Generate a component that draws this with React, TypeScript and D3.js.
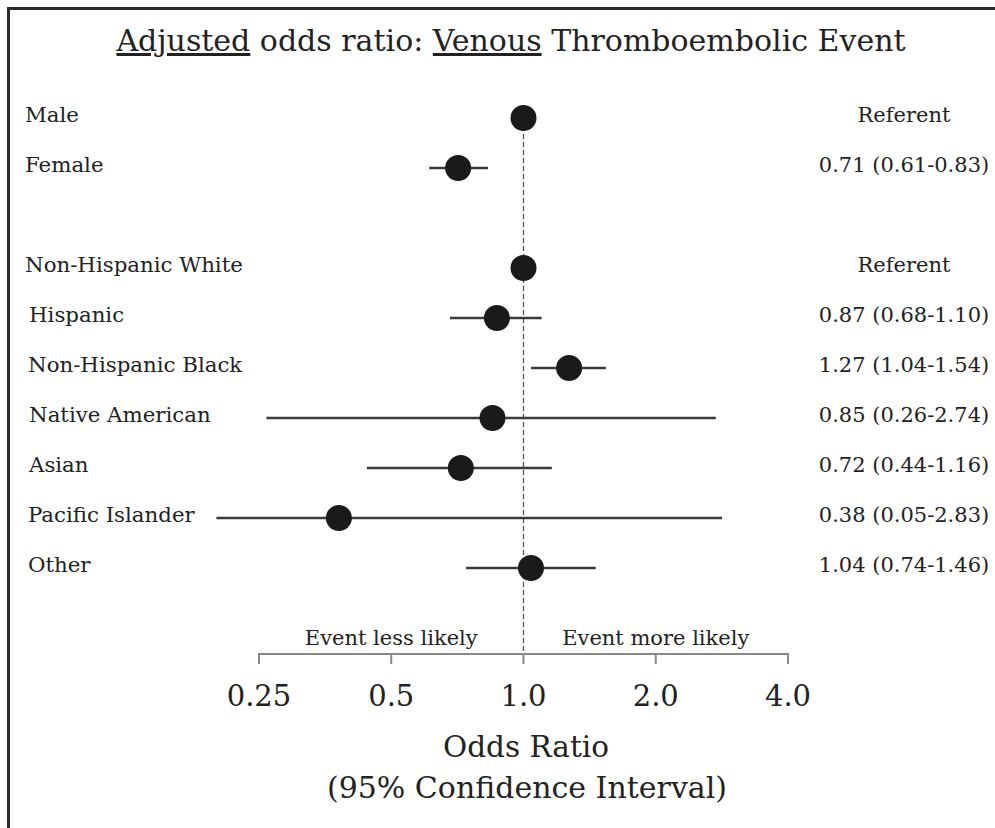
import React from "react";
import * as d3 from "d3";

const rowKeys = ["Male", "Female", "gap", "Non-Hispanic White", "Hispanic", "Non-Hispanic Black", "Native American", "Asian", "Pacific Islander", "Other"];
const labels = ["Male", "Female", "Non-Hispanic White", "Hispanic", "Non-Hispanic Black", "Native American", "Asian", "Pacific Islander", "Other"];
const estimates = [1.0, 0.71, 1.0, 0.87, 1.27, 0.85, 0.72, 0.38, 1.04];
const lowers: (number | null)[] = [null, 0.61, null, 0.68, 1.04, 0.26, 0.44, 0.05, 0.74];
const uppers: (number | null)[] = [null, 0.83, null, 1.10, 1.54, 2.74, 1.16, 2.83, 1.46];
const rightTexts = ["Referent", "0.71 (0.61-0.83)", "Referent", "0.87 (0.68-1.10)", "1.27 (1.04-1.54)", "0.85 (0.26-2.74)", "0.72 (0.44-1.16)", "0.38 (0.05-2.83)", "1.04 (0.74-1.46)"];
const labelIndent = [0, 0, 0, 4, 3, 4, 4, 3, 3];
const tickValues = [0.25, 0.5, 1.0, 2.0, 4.0];
const tickLabels = ["0.25", "0.5", "1.0", "2.0", "4.0"];

const W = 995;
const H = 828;
const FONT = "'DejaVu Serif', serif";

export default function App() {
  const x = d3.scaleLog().base(2).domain([0.25, 4]).range([259, 788]);
  const y = d3.scalePoint<string>().domain(rowKeys).range([118, 568]);
  const clipMin = 0.2;
  const axisY = 654;
  const dotR = 13;

  return (
    <svg width={W} height={H} style={{ position: "absolute", left: 0, top: 0, background: "#fff" }} fontFamily={FONT}>
      <rect x={0} y={0} width={W} height={H} fill="#fff" />
      <path d={`M8.5,${H} L8.5,8.5 L${W},8.5`} fill="none" stroke="#2a2a2a" strokeWidth={3} />

      <text x={511} y={51} textAnchor="middle" fontSize={30} fill="#222">
        <tspan textDecoration="underline">Adjusted</tspan> odds ratio: <tspan textDecoration="underline">Venous</tspan> Thromboembolic Event
      </text>

      {/* reference line */}
      <line x1={x(1)} x2={x(1)} y1={y("Male")!} y2={axisY} stroke="#555" strokeWidth={1.3} strokeDasharray="5,3" />

      {labels.map((lab, i) => {
        const yy = y(lab)!;
        const lo = lowers[i];
        const hi = uppers[i];
        return (
          <g key={lab}>
            <text x={25 + labelIndent[i]} y={yy + 4} fontSize={21.3} fill="#222">{lab}</text>
            {lo !== null && hi !== null && (
              <line x1={x(Math.max(lo, clipMin))} x2={x(hi)} y1={yy} y2={yy} stroke="#3a3a3a" strokeWidth={2.5} />
            )}
            <circle cx={x(estimates[i])} cy={yy} r={dotR} fill="#1a1a1a" />
            <text x={904} y={yy + 4} textAnchor="middle" fontSize={21} fill="#222">{rightTexts[i]}</text>
          </g>
        );
      })}

      {/* axis */}
      <line x1={x(0.25)} x2={x(4)} y1={axisY} y2={axisY} stroke="#888" strokeWidth={2} />
      {tickValues.map((t, i) => (
        <g key={t}>
          <line x1={x(t)} x2={x(t)} y1={axisY - 1} y2={axisY + 10} stroke="#888" strokeWidth={2} />
          <text x={x(t)} y={706} textAnchor="middle" fontSize={29} fill="#222">{tickLabels[i]}</text>
        </g>
      ))}
      <text x={x(0.5)} y={645} textAnchor="middle" fontSize={21} fill="#222">Event less likely</text>
      <text x={x(2)} y={645} textAnchor="middle" fontSize={21} fill="#222">Event more likely</text>

      <text x={526} y={757} textAnchor="middle" fontSize={29.5} fill="#222">Odds Ratio</text>
      <text x={527} y={798} textAnchor="middle" fontSize={30} fill="#222">(95% Confidence Interval)</text>
    </svg>
  );
}
